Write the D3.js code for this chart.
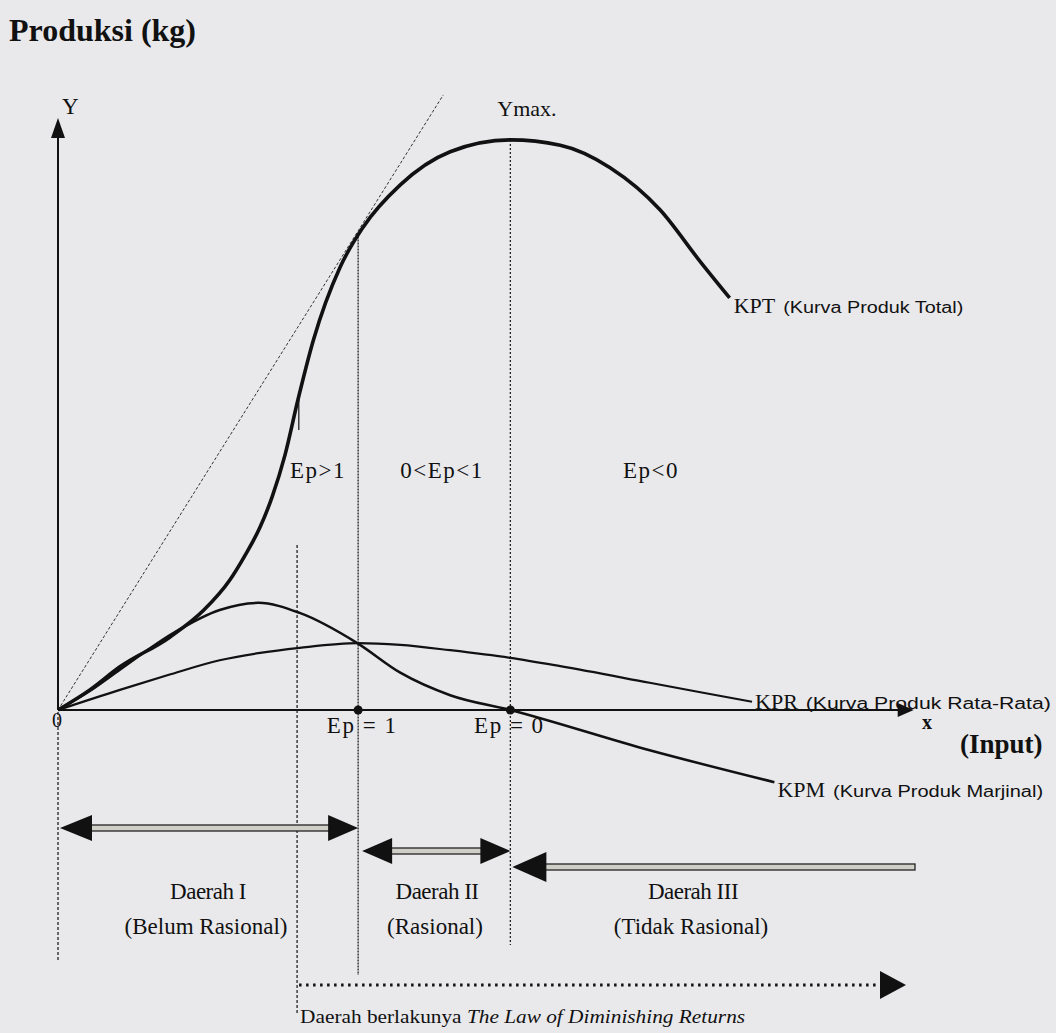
<!DOCTYPE html>
<html>
<head>
  <meta charset="utf-8">
  <title>Kurva Produksi</title>
  <script src="https://d3js.org/d3.v7.min.js"></script>
  <style>
    body { margin: 0; background: #e9e9ec; }
    svg { display: block; }
    .serif { font-family: "Liberation Serif", "DejaVu Serif", serif; fill: #111; }
    .narrow { font-family: "Liberation Sans", sans-serif; fill: #111; }
  </style>
</head>
<body>
  <div id="chart"></div>
  <script>
    // curve values, input (x) vs output (y)
    var kpt = [[0, 0], [3.7, 3.4], [7.2, 7.3], [13.0, 12.3], [16.9, 16.8], [20.0, 22.0], [21.7, 26.0],
      [23.5, 30.9], [24.9, 36.0], [26.4, 43.1], [27.9, 52.4], [29.7, 62.5], [32.8, 74.8], [35.5, 81.6],
      [39.8, 88.7], [45.6, 94.3], [52.6, 96.3], [58.4, 95.4], [64.2, 91.6], [70.0, 84.5], [74.7, 75.7],
      [78.1, 69.6]];
    var kpr = [[0, 0], [7.2, 3.4], [12.8, 5.9], [18.8, 8.4], [23.3, 9.6], [28.1, 10.5], [34.9, 11.3],
      [39.8, 11.0], [45.6, 10.1], [52.6, 8.8], [58.4, 7.4], [68.8, 4.6], [74.7, 3.0], [80.7, 1.4]];
    var kpm = [[0, 0], [3.7, 3.2], [7.2, 6.8], [13.4, 13.0], [18.8, 16.9], [23.3, 18.1], [28.1, 16.4],
      [34.8, 11.3], [39.8, 6.3], [45.6, 2.5], [52.6, 0], [68.8, -6.8], [83.3, -12.2]];
    var tangent = [[0, 0], [44.8, 103.9]];
    // x of inflection point, Ep = 1 and Ymax
    var xInflect = 27.8, xEp1 = 34.9, xYmax = 52.6;
    var epLabels = ["Ep>1", "0<Ep<1", "Ep<0"];
    var regionNames = ["Daerah I", "Daerah II", "Daerah III"];
    var regionNotes = ["(Belum Rasional)", "(Rasional)", "(Tidak Rasional)"];

    var width = 1056, height = 1033;
    var svg = d3.select("#chart").append("svg")
      .attr("width", width)
      .attr("height", height);

    var x = d3.scaleLinear().domain([0, 100]).range([58, 918]);
    var y = d3.scaleLinear().domain([0, 100]).range([710, 118]);

    var line = d3.line()
      .x(function (d) { return x(d[0]); })
      .y(function (d) { return y(d[1]); })
      .curve(d3.curveMonotoneX);
    var straight = d3.line()
      .x(function (d) { return x(d[0]); })
      .y(function (d) { return y(d[1]); });

    // title
    svg.append("text").attr("class", "serif")
      .attr("x", 9).attr("y", 41)
      .style("font-size", "32px").style("font-weight", "bold")
      .text("Produksi (kg)");

    // axes
    svg.append("line").attr("x1", x(0)).attr("x2", x(0)).attr("y1", y(0)).attr("y2", y(97))
      .attr("stroke", "#111").attr("stroke-width", 2);
    svg.append("path")
      .attr("d", "M" + x(0) + "," + y(100) + " l-7,20 l14,0 z").attr("fill", "#111");
    svg.append("line").attr("x1", x(0)).attr("x2", x(99)).attr("y1", y(0)).attr("y2", y(0))
      .attr("stroke", "#111").attr("stroke-width", 2);
    svg.append("path")
      .attr("d", "M" + x(99.5) + "," + y(0) + " l-16,-7 l0,14 z").attr("fill", "#111");

    svg.append("text").attr("class", "serif").attr("x", 62).attr("y", 114)
      .style("font-size", "23px").text("Y");
    svg.append("text").attr("class", "serif").attr("x", x(0) - 6).attr("y", 727)
      .style("font-size", "20px").text("0");
    svg.append("text").attr("class", "serif").attr("x", 922).attr("y", 729)
      .style("font-size", "20px").style("font-weight", "bold").text("x");
    svg.append("text").attr("class", "serif").attr("x", 960).attr("y", 753)
      .style("font-size", "27px").style("font-weight", "bold").text("(Input)");

    // vertical guides
    function vguide(xv, y1, y2, dash) {
      svg.append("line").attr("x1", x(xv)).attr("x2", x(xv)).attr("y1", y1).attr("y2", y2)
        .attr("stroke", "#222").attr("stroke-width", 1.3).attr("stroke-dasharray", dash);
    }
    vguide(0, 712, 962, "3,2");
    vguide(xInflect + 0.2, 398, 430, null);
    vguide(xInflect, 545, 1015, "3,2");
    vguide(xEp1, y(80), 975, "2,1");
    vguide(xYmax, y(96.3), 945, "2,2");

    // tangent line from the origin
    svg.append("path").attr("d", straight(tangent))
      .attr("fill", "none").attr("stroke", "#333").attr("stroke-width", 1)
      .attr("stroke-dasharray", "3,2");

    // curves
    svg.append("path").attr("d", line(kpr)).attr("fill", "none")
      .attr("stroke", "#111").attr("stroke-width", 2.2);
    svg.append("path").attr("d", line(kpm)).attr("fill", "none")
      .attr("stroke", "#111").attr("stroke-width", 2.5);
    svg.append("path").attr("d", line(kpt)).attr("fill", "none")
      .attr("stroke", "#111").attr("stroke-width", 3.6);

    // Ep points on x axis
    [xEp1, xYmax].forEach(function (v) {
      svg.append("circle").attr("cx", x(v)).attr("cy", y(0)).attr("r", 4.5).attr("fill", "#111");
    });

    svg.append("text").attr("class", "serif").attr("x", x(xYmax) - 13).attr("y", 116)
      .style("font-size", "22px").text("Ymax.");

    // curve labels
    function curveLabel(px, py, big, small, smallLen) {
      var t = svg.append("text").attr("class", "serif").attr("x", px).attr("y", py)
        .style("font-size", "22px").text(big);
      var w = t.node().getComputedTextLength();
      svg.append("text").attr("class", "narrow").attr("x", px + w + 8).attr("y", py)
        .style("font-size", "16px")
        .attr("textLength", smallLen).attr("lengthAdjust", "spacingAndGlyphs")
        .text(small);
    }
    var lastKpt = kpt[kpt.length - 1], lastKpr = kpr[kpr.length - 1], lastKpm = kpm[kpm.length - 1];
    curveLabel(x(lastKpt[0]) + 4, y(lastKpt[1]) + 15, "KPT", "(Kurva Produk Total)", 180);
    curveLabel(x(lastKpr[0]) + 3, y(lastKpr[1]) + 7, "KPR", "(Kurva Produk Rata-Rata)", 245);
    curveLabel(x(lastKpm[0]) + 3, y(lastKpm[1]) + 15, "KPM", "(Kurva Produk Marjinal)", 210);

    // elasticity labels
    var epX = [318, 442, 651];
    epLabels.forEach(function (s, i) {
      svg.append("text").attr("class", "serif").attr("x", epX[i]).attr("y", 478)
        .attr("text-anchor", "middle").style("font-size", "23px").style("letter-spacing", "1.5px")
        .text(s);
    });
    svg.append("text").attr("class", "serif").attr("x", x(xEp1) + 4).attr("y", 733)
      .attr("text-anchor", "middle").style("font-size", "23px").style("letter-spacing", "1.5px")
      .text("Ep = 1");
    svg.append("text").attr("class", "serif").attr("x", x(xYmax) - 1).attr("y", 733)
      .attr("text-anchor", "middle").style("font-size", "23px").style("letter-spacing", "1.5px")
      .text("Ep = 0");

    // double-line arrows for the regions
    function head(tipX, yy, dir, len, half) {
      svg.append("path")
        .attr("d", "M" + tipX + "," + yy + " L" + (tipX - dir * len) + "," + (yy - half) +
          " L" + (tipX - dir * len) + "," + (yy + half) + " Z")
        .attr("fill", "#111");
    }
    function shaft(x1, x2, yy) {
      svg.append("rect").attr("x", x1).attr("y", yy - 3).attr("width", x2 - x1).attr("height", 6)
        .attr("fill", "#cfcfc8").attr("stroke", "#222").attr("stroke-width", 1.3);
    }
    var r1 = [x(0) + 2, x(xEp1)], r2 = [x(xEp1) + 4, x(xYmax)], r3 = [x(xYmax) + 2, 915];
    shaft(r1[0] + 28, r1[1] - 28, 828); head(r1[0], 828, -1, 32, 13); head(r1[1], 828, 1, 30, 13);
    shaft(r2[0] + 28, r2[1] - 28, 851); head(r2[0], 851, -1, 30, 13); head(r2[1], 851, 1, 30, 13);
    shaft(r3[0] + 30, r3[1], 867); head(r3[0], 867, -1, 34, 15);

    var regionX = [208, 437, 693];
    regionNames.forEach(function (s, i) {
      svg.append("text").attr("class", "serif").attr("x", regionX[i]).attr("y", 899)
        .attr("text-anchor", "middle").style("font-size", "23px").style("letter-spacing", "-0.5px")
        .text(s);
      svg.append("text").attr("class", "serif").attr("x", regionX[i] - 2).attr("y", 934)
        .attr("text-anchor", "middle").style("font-size", "23px").text(regionNotes[i]);
    });

    // law of diminishing returns
    svg.append("line").attr("x1", x(xInflect) + 2).attr("x2", 882).attr("y1", 985).attr("y2", 985)
      .attr("stroke", "#111").attr("stroke-width", 3).attr("stroke-dasharray", "2.5,4.5");
    head(906, 985, 1, 26, 14);
    var law = svg.append("text").attr("class", "serif").attr("x", x(xInflect) + 3).attr("y", 1023)
      .style("font-size", "19px")
      .attr("textLength", 445).attr("lengthAdjust", "spacingAndGlyphs");
    law.append("tspan").text("Daerah berlakunya ");
    law.append("tspan").style("font-style", "italic").text("The Law of Diminishing Returns");
  </script>
</body>
</html>
